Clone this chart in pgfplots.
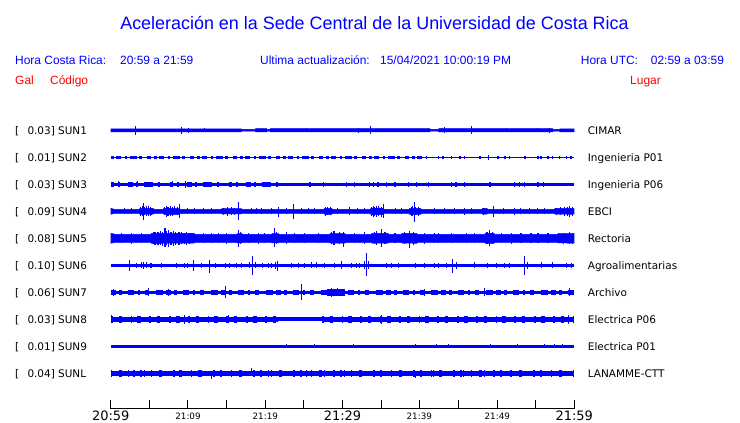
\documentclass[border=0pt]{standalone}
\usepackage{pgfplots}
\pgfplotsset{compat=1.18}
\usepackage{pgfplotstable}
\usepgfplotslibrary{fillbetween}
\usepackage{fontspec}
\setmainfont{Liberation Sans}
\newfontfamily\dv{DejaVu Sans}
\definecolor{tb}{RGB}{0,0,255}
\definecolor{tr}{RGB}{255,0,0}

% ---------- SUN1 ----------
\pgfplotstableread{
t u d
0 1.5 1.5
16.9 1.5 1.5
16.95 0.8 0.8
18.7 0.8 0.8
18.75 1.6 1.6
20.2 1.6 1.6
20.25 0.8 0.8
20.6 0.8 0.8
20.65 1.7 1.7
41.3 1.7 1.7
41.35 0.8 0.8
42.4 0.8 0.8
42.45 1.6 1.6
57.2 1.6 1.6
57.25 0.8 0.8
58.1 0.8 0.8
58.15 1.5 1.5
60 1.5 1.5
}\envA
\pgfplotstableread{
t p m
3.23 4.3 4.3
9.18 3.3 3.3
10.13 2.7 2.7
12.2 2.2 2.2
25.3 2.2 2.2
32.03 2.7 2.7
33.66 4.0 3.7
42.8 2.2 2.2
43.23 3.0 2.7
46.68 4.7 3.3
51.2 2.2 2.2
55.3 2.0 2.0
56.8 2.3 2.3
}\spkA
% ---------- SUN2 ----------
\pgfplotstableread{
t p m
42.4 1.4 1.4
43.0 1.4 1.4
44.1 1.4 1.4
45.2 1.4 1.4
45.8 1.4 1.4
47.8 1.4 1.4
48.9 2.0 2.3
50.1 1.4 1.4
51.0 1.4 1.4
51.6 1.4 1.4
53.6 1.4 1.4
55.3 1.4 1.4
55.7 1.4 1.4
56.6 1.4 1.4
57.2 1.4 1.4
58.1 1.4 1.4
59.0 1.4 1.4
59.6 1.4 1.4
}\spkB
% ---------- SUN3 ----------
\pgfplotstableread{
t p m
1.0 3.0 3.0
3.5 3.0 3.0
8.0 3.0 3.0
9.65 3.7 3.7
25.8 2.7 2.7
27.5 2.7 2.7
30.5 2.7 2.7
31.6 2.7 2.7
33.5 2.7 2.7
34.0 2.7 2.7
34.6 2.7 2.7
35.7 2.7 2.7
36.8 2.7 2.7
38.5 2.7 2.7
39.6 2.7 2.7
41.1 2.7 2.7
44.1 2.7 2.7
44.7 2.7 2.7
45.8 2.7 2.7
49.1 2.7 2.7
52.3 2.7 2.7
52.9 2.7 2.7
53.6 2.7 2.7
55.3 2.7 2.7
56.0 2.7 2.7
}\spkC
% ---------- SUN4 ----------
\pgfplotstableread{
t u d
0 3 3
0.5 2 2
3.7 2 2
3.8 3 3
5.5 2.8 2.8
5.6 2 2
6.8 2 2
6.9 3 3.2
8.9 2.8 3
9.0 2 2
14.3 2 2
14.4 2.7 2.7
16.9 2.6 2.7
17.0 2 2
27.6 2 2
27.7 3 3.2
28.6 3 3
28.7 2 2
33.6 2 2
33.7 3.2 3.5
35.3 3 3.3
35.4 2 2
38.6 2 2
38.7 3 3.2
40.1 3 3
40.2 2 2
48.0 2 2
48.1 2.8 2.8
48.7 2.8 2.8
48.8 2 2
57.4 2 2
57.5 2.8 2.8
59.8 3 3
60 2.5 2.5
}\envD
\pgfplotstableread{
t p m
1.85 3 3
2.7 3 3
3.9 4 4.5
4.1 5 5
4.22 8 8.7
4.4 4.5 4
4.6 5.5 5
4.87 5 5
5.1 4 4.5
5.3 3.5 4
7.0 4.5 4
7.16 5.5 5.5
7.3 4 5
7.46 4.5 5
7.7 5 4.5
8.0 4 4.5
8.3 5 4
8.6 4 4
8.84 7 6.3
10.0 3 3
10.9 3 3
12.0 3 3
13.1 3 3
14.6 3.5 3.5
15.13 4.3 4.3
15.6 3.8 3.5
16.0 3.5 4
16.5 9 8.7
18.2 3 3
18.9 3 3
19.5 3 3
20.8 3 3
21.7 4.7 5.7
22.8 3 3
23.6 7 7.7
24.7 3 3
25.6 3 3
26.4 3 3
27.8 4 4.5
28.1 4.5 4
28.4 4 4
29.4 3 3
30.9 4 4
32.0 3 3
32.9 3 3
33.8 4.5 5
34.0 5 5.5
34.2 4 5
34.4 5.5 6
34.7 5 5
35.0 4.5 5.5
35.26 7 7
36.8 3 3
37.6 3 3
38.9 4 4.5
39.1 5 5
39.27 9 10.7
39.5 4.5 4
39.8 4 4.5
41.9 3 3
43.2 3 3
44.5 3 3
45.8 3.7 3.7
46.7 3 3
48.3 3.5 3.5
49.5 5 5.3
50.8 3 3
52.2 3.5 3.5
53.1 3 3
54.2 3 3
55.3 3 3
56.2 3 3
57.7 3.5 3.5
58.2 4 4
58.75 4.5 4.5
59.1 4 4.5
59.4 5.7 5.7
59.8 4.5 4.5
}\spkD
% ---------- SUN5 ----------
\pgfplotstableread{
t u d
0 5 5
0.6 4 4
5.2 4 4
5.3 5 5
10.8 4.8 4.8
10.9 4 4
16.3 4 4
16.4 4.6 4.6
17.0 4.6 4.6
17.1 4 4
20.8 4 4
20.9 4.6 4.6
21.7 4.6 4.6
21.8 4 4
28.3 4 4
28.4 4.7 4.7
30.3 4.7 4.8
30.4 4 4
33.7 4 4
33.8 4.8 4.8
35.9 4.8 4.8
36.0 4 4
37.6 4 4
37.7 4.8 4.8
39.6 4.8 5
39.7 4 4
48.4 4 4
48.5 5 5
49.6 5 5
49.7 4 4
57.8 4 4
57.9 4.6 4.6
60 4.8 4.8
}\envE
\pgfplotstableread{
t p m
1.4 5 5
2.72 5.5 5.5
4.0 5 5
5.5 6 6
5.73 6.5 6.5
6.0 6.5 7
6.16 6 7
6.4 7 6.5
6.7 6.5 7.5
7.03 10.3 9
7.2 7 7
7.46 8.3 8.3
7.8 6.5 7
8.1 7.5 7.5
8.4 6 6.5
8.84 6.5 7
9.2 6 6
9.5 5.5 6
9.83 6 6.5
10.2 5.5 5.5
10.5 5.5 5
12.0 5 5
13.1 5 5
13.9 5 5
15.0 5.5 5.5
16.5 8.3 8.3
16.8 6 6
17.8 5 5
19.1 5 5.5
19.96 5 5
21.16 10.3 9
21.4 6 6
22.76 6 6
23.8 5 5
25.1 5 5
26.9 5 5
28.6 6 6
28.9 7 6.5
29.6 6 6
30.1 6 8.3
31.6 5 5
32.9 6 6
34.1 6 6
34.4 7 7
35.04 9.3 8.3
35.5 6 6
36.8 5 5
38.0 6 6
38.7 7.7 10
39.2 6 6.5
40.6 5.5 5.5
41.9 5 5
42.4 5 5
44.1 5 5
46.0 5 5
47.1 5 5
48.7 6 6
49.05 8.3 7.7
49.4 6 6
50.6 5 5
51.85 5.5 5.5
53.1 5 5
54.4 5 5
55.3 5 5
56.6 5 5
57.9 5 5
58.6 5.5 5.5
59.4 6 6
59.8 5.5 5.5
}\spkE
% ---------- SUN6 ----------
\pgfplotstableread{
t p m
2.41 5 5.7
3.36 2.5 2.5
4.0 3 3
4.22 3.3 3.3
4.65 3 3
5.1 2.7 2.7
5.3 2.5 2.5
6.6 2.3 2.3
8.5 2.3 2.3
9.6 2.3 2.3
10.0 2.3 2.3
10.78 5.3 5.3
11.8 2.3 2.3
12.76 5.7 7.7
13.5 2.5 2.5
14.8 2.5 2.5
15.4 2.5 2.5
16.3 2.5 2.5
16.9 2.5 2.5
17.9 3 3
18.3 9.3 10
18.7 3 3
19.7 2.5 2.5
20.4 2.5 2.5
20.8 2.5 2.5
21.3 3.5 3.5
21.6 4 6
23.4 2.5 2.5
24.3 2.5 2.5
25.1 2.5 2.5
26.0 3 3
26.6 3 3
27.7 2.3 2.3
29.0 2.3 2.3
29.9 4 4
31.2 2.5 2.5
31.8 2.5 2.5
32.2 2.5 2.5
32.8 4 4
33.1 12.3 11
33.4 4 4
35.7 2.5 2.5
36.3 2.5 2.5
37.2 2.5 2.5
39.4 2.3 2.3
40.6 2.3 2.3
41.9 2.3 2.3
42.4 2.3 2.3
43.4 2.3 2.3
44.3 6.7 7.7
44.8 3.5 3.5
47.1 3 3
48.8 2.3 2.3
49.9 2.3 2.3
51.0 2.3 2.3
51.6 2.3 2.3
53.5 9.3 10
54.0 3.5 3.5
55.7 3 3
57.2 3 3
59.0 2.3 2.3
59.6 2.3 2.3
}\spkF
% ---------- SUN7 ----------
\pgfplotstableread{
t p m
0.3 3.5 3.5
4.9 4 4
7.5 3.5 3.5
14.8 6.3 5.7
24.7 8.3 8
28.6 4.7 4.7
29.4 4 4
40.6 3.5 3.5
48.4 4 4
59.4 4 4
}\spkG
% ---------- SUN8 ----------
\pgfplotstableread{
t p m
0.1 4 4
9.6 4.3 4.3
15.2 4.2 4.2
35.0 4.3 4.3
59.2 4.3 4.3
}\spkH
% ---------- SUN9 ----------
\pgfplotstableread{
t p m
22.8 2 2
26.4 2 2
31.4 2 2
39.4 2 2
42.2 2 2
43.7 2 2
49.1 2.2 2.2
52.7 2 2
56.2 2 2
57.5 2 2
58.5 2 2
}\spkI
% ---------- SUNL ----------
\pgfplotstableread{
t p m
2.3 3.5 3.5
4.4 3.5 3.5
8.9 3.5 3.5
11.3 3.5 3.5
13.1 2.3 5.3
18.2 5.7 2.3
20.4 3.5 3.5
25.3 3.5 3.5
27.7 3.5 3.5
30.2 3.5 3.5
32.5 3.5 3.5
34.1 3.5 3.5
37.5 3.5 3.5
39.4 2.3 4.7
41.8 3.5 3.5
45.6 3.5 3.5
48.4 3.5 3.5
51.8 3.5 3.5
55.6 3.5 3.5
58.1 3.5 3.5
}\spkL

\pgfplotsset{
  spk/.style={draw=none, mark=none, forget plot,
    error bars/.cd, y dir=both, y explicit, error mark=none,
    error bar style={draw=tb, line width=#1, solid}},
  env/.style={draw=tb, line width=0.5bp, mark=none, forget plot},
  band/.style={tb, line width=#1, mark=none, forget plot},
}

\begin{document}
\begin{tikzpicture}
\begin{axis}[
  at={(110.7bp,14bp)}, anchor=south west, scale only axis,
  width=463.6bp, height=286bp,
  xmin=0, xmax=60, ymin=14, ymax=300,
  clip=false,
  axis x line=bottom, axis y line=none,
  axis line style={-, black, line width=1bp},
  xtick={0,5,...,60}, xticklabels={},
  xtick align=inside, major tick length=9bp,
  tick style={black, line width=1bp},
  ytick=\empty,
]
% SUN1
\addplot[env, name path=uA] table[x=t, y expr=292.7+\thisrow{u}] {\envA};
\addplot[env, name path=dA] table[x=t, y expr=292.7-\thisrow{d}] {\envA};
\addplot[fill=tb, draw=none] fill between[of=uA and dA];
\addplot[spk=1bp] table[x=t, y expr=292.7, y error plus=p, y error minus=m] {\spkA};
% SUN2
\addplot[band=1.3bp] coordinates {(0,265.7) (60,265.7)};
\addplot[band=2.8bp, dash pattern=on 3bp off 2bp on 5bp off 4bp on 2bp off 3bp on 7bp off 2bp on 3bp off 5bp on 4bp off 3bp] coordinates {(0,265.7) (41,265.7)};
\addplot[spk=1.5bp] table[x=t, y expr=265.7, y error plus=p, y error minus=m] {\spkB};
% SUN3
\addplot[band=3.4bp] coordinates {(0,238.7) (60,238.7)};
\addplot[band=5.4bp, dash pattern=on 3bp off 4bp on 2bp off 8bp on 5bp off 3bp on 2bp off 6bp on 9bp off 5bp on 2bp off 10bp] coordinates {(0,238.7) (22.6,238.7)};
\addplot[spk=1.2bp] table[x=t, y expr=238.7, y error plus=p, y error minus=m] {\spkC};
% SUN4
\addplot[env, name path=uD] table[x=t, y expr=211.7+\thisrow{u}] {\envD};
\addplot[env, name path=dD] table[x=t, y expr=211.7-\thisrow{d}] {\envD};
\addplot[fill=tb, draw=none] fill between[of=uD and dD];
\addplot[spk=1bp] table[x=t, y expr=211.7, y error plus=p, y error minus=m] {\spkD};
% SUN5
\addplot[env, name path=uE] table[x=t, y expr=184.7+\thisrow{u}] {\envE};
\addplot[env, name path=dE] table[x=t, y expr=184.7-\thisrow{d}] {\envE};
\addplot[fill=tb, draw=none] fill between[of=uE and dE];
\addplot[spk=1.1bp] table[x=t, y expr=184.7, y error plus=p, y error minus=m] {\spkE};
% SUN6
\addplot[band=3bp] coordinates {(0,157.7) (60,157.7)};
\addplot[spk=1bp] table[x=t, y expr=157.7, y error plus=p, y error minus=m] {\spkF};
% SUN7
\addplot[band=3.4bp] coordinates {(0,130.7) (60,130.7)};
\addplot[band=5.4bp, dash pattern=on 5bp off 3bp on 3bp off 6bp on 6bp off 4bp on 2bp off 5bp on 4bp off 7bp on 7bp off 3bp] coordinates {(0,130.7) (60,130.7)};
\addplot[band=6.5bp] coordinates {(28,130.7) (30.3,130.7)};
\addplot[spk=1bp] table[x=t, y expr=130.7, y error plus=p, y error minus=m] {\spkG};
% SUN8
\addplot[band=5bp] coordinates {(0,103.7) (21.7,103.7)};
\addplot[band=4bp] coordinates {(21.7,103.7) (27.3,103.7)};
\addplot[band=5bp] coordinates {(27.3,103.7) (60,103.7)};
\addplot[band=7.2bp, dash pattern=on 2bp off 6bp on 3bp off 9bp on 1.5bp off 5bp on 4bp off 8bp] coordinates {(0,103.7) (21.7,103.7)};
\addplot[band=7.2bp, dash pattern=on 2bp off 6bp on 3bp off 9bp on 1.5bp off 5bp on 4bp off 8bp] coordinates {(27.3,103.7) (60,103.7)};
\addplot[spk=1bp] table[x=t, y expr=103.7, y error plus=p, y error minus=m] {\spkH};
% SUN9
\addplot[band=2.6bp] coordinates {(0,76.7) (60,76.7)};
\addplot[spk=1bp] table[x=t, y expr=76.7, y error plus=p, y error minus=m] {\spkI};
% SUNL
\addplot[band=4.6bp] coordinates {(0,49.7) (60,49.7)};
\addplot[band=6.6bp, dash pattern=on 1.5bp off 7bp on 3bp off 11bp on 2bp off 5bp on 1.5bp off 9bp] coordinates {(0,49.7) (60,49.7)};
\addplot[spk=1bp] table[x=t, y expr=49.7, y error plus=p, y error minus=m] {\spkL};
\end{axis}

% ---- title and headers ----
\node[anchor=base, inner sep=0, text=tb, font=\fontsize{18}{20}\selectfont] at (374.5bp,393.7bp) {Aceleración en la Sede Central de la Universidad de Costa Rica};
\begin{scope}[every node/.style={anchor=base west, inner sep=0, font=\fontsize{12}{14}\selectfont}]
\node[text=tb] at (15bp,358bp) {Hora Costa Rica:};
\node[text=tb] at (120bp,358bp) {20:59 a 21:59};
\node[text=tb] at (260bp,358bp) {Ultima actualización:};
\node[text=tb] at (380bp,358bp) {15/04/2021 10:00:19 PM};
\node[text=tb] at (580.7bp,358bp) {Hora UTC:};
\node[text=tb] at (650.7bp,358bp) {02:59 a 03:59};
\node[text=tr] at (15bp,338bp) {Gal};
\node[text=tr] at (50bp,338bp) {Código};
\node[text=tr] at (630bp,338bp) {Lugar};
\end{scope}

% ---- trace labels ----
\foreach \y/\g/\c/\n in {292.7/0.03/SUN1/CIMAR, 265.7/0.01/SUN2/Ingenieria P01, 238.7/0.03/SUN3/Ingenieria P06, 211.7/0.09/SUN4/EBCI, 184.7/0.08/SUN5/Rectoria, 157.7/0.10/SUN6/Agroalimentarias, 130.7/0.06/SUN7/Archivo, 103.7/0.03/SUN8/Electrica P06, 76.7/0.01/SUN9/Electrica P01, 49.7/0.04/SUNL/LANAMME-CTT}{
  \pgfmathsetmacro\yy{\y-4.3}
  \node[anchor=base west, inner sep=0, font=\dv\fontsize{10.5}{12}\selectfont] at (15bp,\yy bp) {[};
  \node[anchor=base west, inner sep=0, font=\dv\fontsize{10.5}{12}\selectfont] at (27.3bp,\yy bp) {\g] \c};
  \node[anchor=base west, inner sep=0, font=\dv\fontsize{10.5}{12}\selectfont] at (587.7bp,\yy bp) {\n};
}

% ---- time labels ----
\foreach \x/\l in {110.7/20:59, 342.5/21:29, 574.3/21:59}{
  \node[anchor=base, inner sep=0, font=\dv\fontsize{13}{14}\selectfont] at (\x bp,2.3bp) {\l};
}
\foreach \x/\l in {188/21:09, 265.3/21:19, 419.3/21:39, 497.3/21:49}{
  \node[anchor=base, inner sep=0, font=\dv\fontsize{8.8}{10}\selectfont] at (\x bp,4bp) {\l};
}
\pgfresetboundingbox
\useasboundingbox (0,0) rectangle (740bp,423bp);
\end{tikzpicture}
\end{document}
